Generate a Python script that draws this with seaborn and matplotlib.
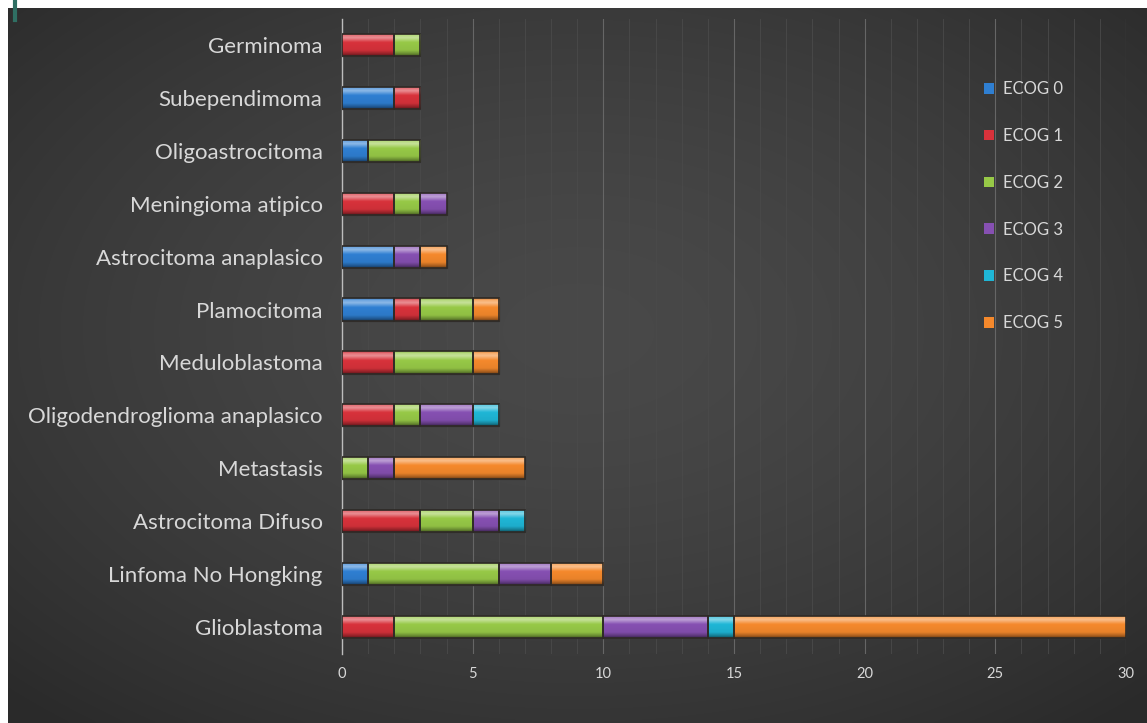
import numpy as np
import pandas as pd
import matplotlib
matplotlib.use("Agg")
import matplotlib.pyplot as plt
import seaborn as sns
from matplotlib.colors import to_rgb
from matplotlib.lines import Line2D
from matplotlib.patches import Rectangle

categories = ["Germinoma", "Subependimoma", "Oligoastrocitoma", "Meningioma atipico",
              "Astrocitoma anaplasico", "Plamocitoma", "Meduloblastoma",
              "Oligodendroglioma anaplasico", "Metastasis", "Astrocitoma Difuso",
              "Linfoma No Hongking", "Glioblastoma"]
series_names = ["ECOG 0", "ECOG 1", "ECOG 2", "ECOG 3", "ECOG 4", "ECOG 5"]
ecog0 = [0, 2, 1, 0, 2, 2, 0, 0, 0, 0, 1, 0]
ecog1 = [2, 1, 0, 2, 0, 1, 2, 2, 0, 3, 0, 2]
ecog2 = [1, 0, 2, 1, 0, 2, 3, 1, 1, 2, 5, 8]
ecog3 = [0, 0, 0, 1, 1, 0, 0, 2, 1, 1, 2, 4]
ecog4 = [0, 0, 0, 0, 0, 0, 0, 1, 0, 1, 0, 1]
ecog5 = [0, 0, 0, 0, 1, 1, 1, 0, 5, 0, 2, 15]
x_ticks = [0, 5, 10, 15, 20, 25, 30]

colors = ["#2f7fd2", "#d8323b", "#97c947", "#8650b2", "#1fb6d6", "#f5892c"]
series = [ecog0, ecog1, ecog2, ecog3, ecog4, ecog5]

W, H = 1147, 723
fig = plt.figure(figsize=(W / 100, H / 100), dpi=100)
fig.patch.set_facecolor("white")

# background with radial gradient
bg = fig.add_axes([8 / W, 0, 1 - 8 / W, 1 - 8 / H], zorder=0)
bg.set_axis_off()
yy, xx = np.mgrid[0:300, 0:480]
cx, cy = 0.50 * 480, 0.45 * 300
r = np.sqrt(((xx - cx) / 480) ** 2 + ((yy - cy) / 300) ** 2)
r = np.clip(r / 0.72, 0, 1)
lum = 0.285 - 0.12 * r ** 1.6
img = np.dstack([lum, lum, lum])
bg.imshow(img, aspect="auto", extent=[0, 1, 0, 1], interpolation="bicubic")
bg.set_xlim(0, 1)
bg.set_ylim(0, 1)

# teal line at top-left
fig.add_artist(Line2D([15 / W, 15 / W], [1 - 20 / H, 1], color="#2f6f63", lw=3))

ax = fig.add_axes([342 / W, 1 - 653.5 / H, (1126 - 342) / W, (653.5 - 18.5) / H], zorder=1)
ax.set_facecolor("none")

cum = np.zeros(len(categories))
containers = []
for name, vals, col in zip(series_names, series, colors):
    df = pd.DataFrame({"cat": categories, "val": vals})
    n_before = len(ax.patches)
    sns.barplot(data=df, x="val", y="cat", color=col, orient="h", width=0.42,
                ax=ax, edgecolor="#3a3a3a", linewidth=1.0, saturation=1, zorder=3)
    new = ax.patches[n_before:]
    for p, left in zip(new, cum):
        p.set_x(left)
    containers.append((new, col))
    cum = cum + np.array(vals)

ax.set_xlim(0, 30)
ax.set_ylim(11.5, -0.5)


def shade(base, t):
    b = np.array(to_rgb(base))
    w = np.ones(3)
    stops = [(0.0, b * 0.85), (0.08, b * 0.7 + w * 0.3), (0.2, b * 0.55 + w * 0.45),
             (0.4, b), (0.75, b * 0.95), (0.9, b * 0.7), (1.0, b * 0.45)]
    ts = [s[0] for s in stops]
    out = np.zeros((len(t), 3))
    for c in range(3):
        out[:, c] = np.interp(t, ts, [s[1][c] for s in stops])
    return out


for patches, col in containers:
    for p in patches:
        w = p.get_width()
        if w <= 0:
            p.set_visible(False)
            continue
        x0, y0, h = p.get_x(), p.get_y(), p.get_height()
        t = np.linspace(0, 1, 64)
        grad = shade(col, t)[:, None, :]
        grad = np.repeat(grad, 2, axis=1)
        im = ax.imshow(grad, extent=[x0, x0 + w, y0 + h, y0], aspect="auto",
                       origin="upper", zorder=4, interpolation="bilinear")
        im.set_clip_path(p)
        ax.add_patch(Rectangle((x0, y0), w, h, fill=False, edgecolor="#2e2a26",
                               linewidth=1.2, zorder=5))

ax.set_xlim(0, 30)
ax.set_ylim(11.5, -0.5)
ax.set_aspect("auto")

# grid
ax.set_xticks(x_ticks)
ax.set_xticks(np.arange(0, 31, 1), minor=True)
ax.grid(axis="x", which="major", color="#666666", lw=0.8, zorder=0)
ax.grid(axis="x", which="minor", color="#4a4a4a", lw=0.6, zorder=0)
ax.grid(axis="y", visible=False)
for s in ["top", "right", "bottom"]:
    ax.spines[s].set_visible(False)
ax.spines["left"].set_color("#bdbdbd")
ax.spines["left"].set_linewidth(1.0)
ax.tick_params(axis="both", which="both", length=0)
ax.tick_params(axis="x", colors="#d8d8d8", labelsize=10.5, pad=10)
ax.tick_params(axis="y", colors="#d8d8d8", labelsize=16, pad=14)
for lab in ax.get_yticklabels() + ax.get_xticklabels():
    lab.set_fontfamily("Lato")
ax.set_xlabel("")
ax.set_ylabel("")

handles = [Rectangle((0, 0), 1, 1, facecolor=c, edgecolor="none") for c in colors]
leg = ax.legend(handles, series_names, loc="upper left", bbox_to_anchor=(0.8, 0.925),
                frameon=False, handlelength=0.6, handleheight=0.6, handletextpad=0.5,
                labelspacing=1.85, prop={"family": "Lato", "size": 12})
for txt in leg.get_texts():
    txt.set_color("#d8d8d8")

fig.savefig("out.png", dpi=100, facecolor="white")
